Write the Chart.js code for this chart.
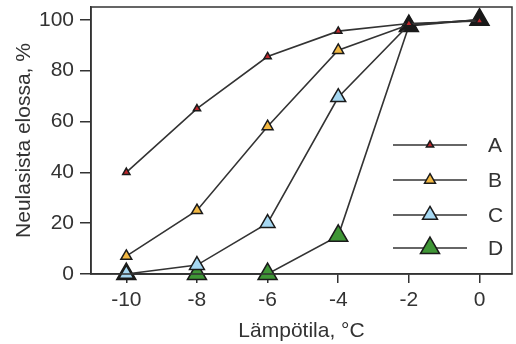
<!DOCTYPE html>
<html><head><meta charset="utf-8">
<script src="https://cdn.jsdelivr.net/npm/chart.js@4/dist/chart.umd.min.js"></script>
<style>html,body{margin:0;padding:0;background:#fff}#wrap{width:516px;height:344px}</style>
</head><body><div id="wrap"><canvas id="c" width="516" height="344"></canvas></div>
<script>
// ---- data ----
const temperatures = [-10, -8, -6, -4, -2, 0];
const seriesA = [40, 65, 85.5, 95.5, 98.5, 99.5];
const seriesB = [7, 25, 58, 88, 98, 100];
const seriesC = [0, 3.5, 20, 69.5, 98, 100];
const seriesD = [0, 0, 0, 15, 97.5, 100];
const seriesLabels = ['A', 'B', 'C', 'D'];
const xTickValues = [-10, -8, -6, -4, -2, 0];
const yTickValues = [0, 20, 40, 60, 80, 100];
const xTitle = 'Lämpötila, °C';
const yTitle = 'Neulasista elossa, %';

// ---- styles ----
const INK = '#333333';
const FONT = '"Liberation Sans", Arial, sans-serif';
const DARK = '#1b1b1b';
const styles = [
  { fill: '#c0272d', r: 4.2 },
  { fill: '#f2b843', r: 6.3 },
  { fill: '#a6d8f2', r: 8.6 },
  { fill: '#3f9636', r: 11 }
];
const allSeries = [seriesA, seriesB, seriesC, seriesD];
// overlapping markers at the top right appear dark in the reference
const pointFills = [
  temperatures.map(() => styles[0].fill),
  temperatures.map((t, i) => i >= 4 ? DARK : styles[1].fill),
  temperatures.map((t, i) => i >= 4 ? DARK : styles[2].fill),
  temperatures.map((t, i) => i >= 4 ? DARK : styles[3].fill)
];

const datasets = allSeries.map((vals, k) => ({
  label: seriesLabels[k],
  data: temperatures.map((t, i) => ({ x: t, y: vals[i] })),
  borderColor: INK,
  borderWidth: 1.6,
  pointStyle: 'triangle',
  pointRadius: styles[k].r,
  pointHoverRadius: styles[k].r,
  pointBackgroundColor: pointFills[k],
  pointBorderColor: '#1a1a1a',
  pointBorderWidth: 1.5,
  fill: false,
  tension: 0,
  clip: false
}));

const frame = {
  id: 'frame',
  afterDatasetsDraw(chart) {
    const a = chart.chartArea, ctx = chart.ctx;
    ctx.save();
    ctx.strokeStyle = INK;
    ctx.lineWidth = 1.5;
    ctx.strokeRect(a.left, a.top, a.right - a.left, a.bottom - a.top);
    // legend inside the plot
    const rows = [145, 180, 215, 248];
    chart.data.datasets.forEach((ds, k) => {
      const y = rows[k];
      ctx.strokeStyle = INK;
      ctx.lineWidth = 1.6;
      ctx.beginPath(); ctx.moveTo(393, y); ctx.lineTo(467, y); ctx.stroke();
      ctx.fillStyle = styles[k].fill;
      ctx.strokeStyle = '#1a1a1a';
      ctx.lineWidth = 1.5;
      Chart.helpers.drawPoint(ctx, { pointStyle: 'triangle', radius: styles[k].r, rotation: 0, borderWidth: 1.5 }, 430, y);
      ctx.fillStyle = INK;
      ctx.font = '21px ' + FONT;
      ctx.textAlign = 'left';
      ctx.textBaseline = 'middle';
      ctx.fillText(ds.label, 488, y + 1);
    });
    ctx.restore();
  }
};

new Chart(document.getElementById('c'), {
  type: 'line',
  data: { datasets },
  options: {
    responsive: false,
    animation: false,
    devicePixelRatio: 1,
    layout: { autoPadding: false, padding: { left: 0, right: 4, top: 7, bottom: 0 } },
    plugins: { legend: { display: false }, tooltip: { enabled: false } },
    scales: {
      x: {
        type: 'linear', min: -11, max: 0.92,
        afterBuildTicks: s => { s.ticks = xTickValues.map(v => ({ value: v })); },
        afterFit: s => { s.height = 70; s.paddingLeft = 0; s.paddingRight = 0; },
        grid: { drawOnChartArea: false, drawTicks: true, tickLength: 9, color: INK, lineWidth: 1.5 },
        border: { display: true, color: INK, width: 1.5 },
        ticks: { color: INK, font: { family: FONT, size: 21 }, padding: 5, maxRotation: 0, autoSkip: false },
        title: { display: true, text: xTitle, color: INK, font: { family: FONT, size: 21 }, padding: { top: 0, bottom: 0 } }
      },
      y: {
        type: 'linear', min: 0, max: 105,
        afterBuildTicks: s => { s.ticks = yTickValues.map(v => ({ value: v })); },
        afterFit: s => { s.width = 91; s.paddingTop = 0; s.paddingBottom = 0; },
        grid: { drawOnChartArea: false, drawTicks: true, tickLength: 11, color: INK, lineWidth: 1.5 },
        border: { display: true, color: INK, width: 1.5 },
        ticks: { color: INK, font: { family: FONT, size: 21 }, padding: 6, autoSkip: false },
        title: { display: true, text: yTitle, color: INK, font: { family: FONT, size: 21 }, padding: { top: 12, bottom: 0 } }
      }
    }
  },
  plugins: [frame]
});
</script>
</body></html>
